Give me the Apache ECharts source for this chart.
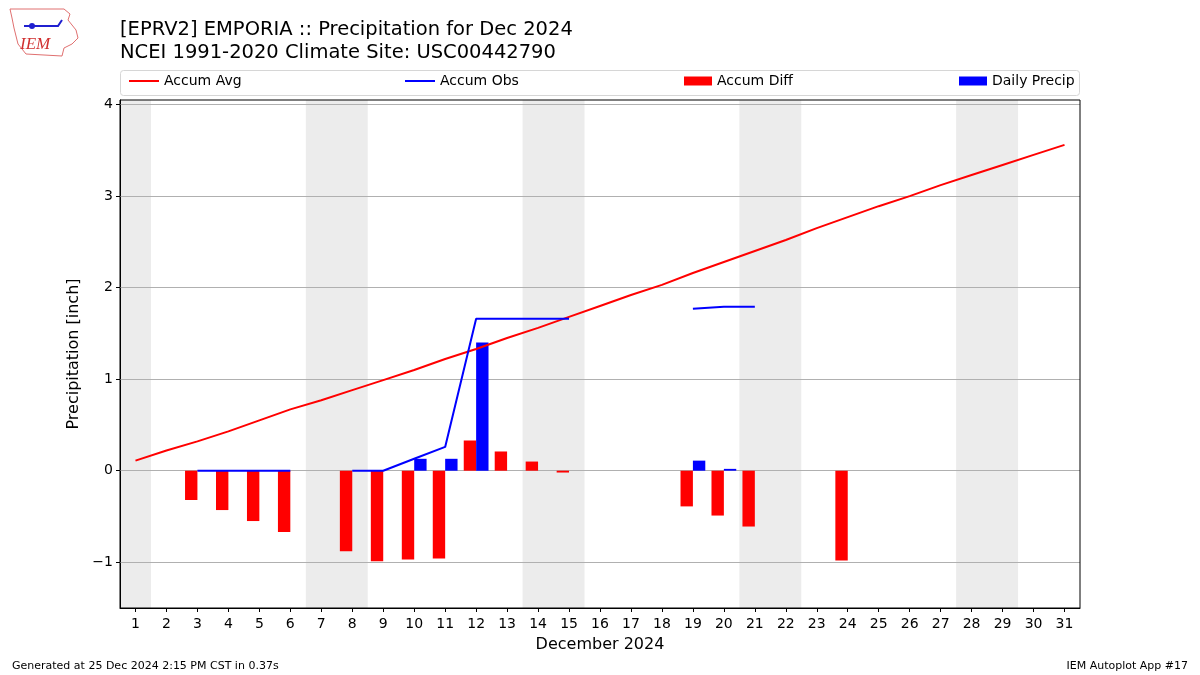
<!DOCTYPE html>
<html>
<head>
<meta charset="utf-8">
<script src="https://cdn.jsdelivr.net/npm/echarts@6/dist/echarts.min.js"></script>
<style>html,body{margin:0;padding:0;background:#fff}#c{width:1200px;height:675px}</style>
</head>
<body>
<div id="c"></div>
<script>
// ---- data ----
const days = Array.from({length: 31}, (_, i) => String(i + 1));
const accumAvg = [0.11,0.22,0.32,0.43,0.55,0.67,0.77,0.88,0.99,1.10,1.22,1.33,1.45,1.56,1.68,1.80,1.92,2.03,2.16,2.28,2.40,2.52,2.65,2.77,2.89,3.00,3.12,3.23,3.34,3.45,3.56];
const accumObs = [null,null,0,0,0,0,null,0,0,0.13,0.26,1.66,1.66,1.66,1.66,null,null,null,1.77,1.79,1.79,null,null,null,null,null,null,null,null,null,null];
const accumDiff = [null,null,-0.32,-0.43,-0.55,-0.67,null,-0.88,-0.99,-0.97,-0.96,0.33,0.21,0.10,-0.02,null,null,null,-0.39,-0.49,-0.61,null,null,-0.98,null,null,null,null,null,null,null];
const dailyPrecip = [null,null,0,0,0,0,null,0,0,0.13,0.13,1.40,0,0,0,null,null,null,0.11,0.02,0,null,null,null,null,null,null,null,null,null,null];
const weekends = [[0.5,1.5],[6.5,8.5],[13.5,15.5],[20.5,22.5],[27.5,29.5]];
const yTicks = [-1,0,1,2,3,4];

const FONT = 'DejaVu Sans';
const chart = echarts.init(document.getElementById('c'), null, {renderer: 'canvas'});

function legendAt(name, textX, iconW, iconH, top) {
  return {
    data: [name], left: textX - iconW - 5, top: top, icon: 'rect',
    itemWidth: iconW, itemHeight: iconH, padding: 0,
    textStyle: {fontFamily: FONT, fontSize: 14, color: '#000'},
    selectedMode: false
  };
}

chart.setOption({
  animation: false,
  backgroundColor: '#fff',
  textStyle: {fontFamily: FONT},
  title: [
    {text: '[EPRV2] EMPORIA :: Precipitation for Dec 2024\nNCEI 1991-2020 Climate Site: USC00442790', left: 120, top: 18, padding: 0,
     textStyle: {fontFamily: FONT, fontSize: 19.5, fontWeight: 'normal', color: '#000', lineHeight: 23}},
  ],
  legend: [
    legendAt('Accum Avg', 164, 30, 2, 74),
    legendAt('Accum Obs', 440, 30, 2, 74),
    legendAt('Accum Diff', 717, 28, 9, 74),
    legendAt('Daily Precip', 992, 28, 9, 74)
  ],
  graphic: [
    {type: 'rect', z: -1, shape: {x: 120.5, y: 70.5, width: 959, height: 25, r: 3}, style: {fill: '#fff', stroke: '#d6d6d6', lineWidth: 1}},
    {type: 'polygon', shape: {points: [[10,9],[64,9],[70,14],[68,20],[76,30],[78,38],[72,44],[64,48],[62,56],[26,54],[18,44],[14,28],[12,18]]},
     style: {fill: '#fff', stroke: '#e07070', lineWidth: 1}},
    {type: 'text', left: 20, top: 36, style: {text: 'IEM', fontFamily: 'Liberation Serif', fontStyle: 'italic', fontSize: 17, fill: '#d03030'}},
    {type: 'polyline', shape: {points: [[24,26],[58,26],[62,20]]}, style: {stroke: '#2020d0', lineWidth: 2, fill: 'none'}},
    {type: 'circle', shape: {cx: 32, cy: 26, r: 3}, style: {fill: '#2020d0'}},
    {type: 'text', left: 12, top: 661, style: {text: 'Generated at 25 Dec 2024 2:15 PM CST in 0.37s', fontFamily: FONT, fontSize: 11, fill: '#000'}},
    {type: 'text', right: 12, top: 661, style: {text: 'IEM Autoplot App #17', fontFamily: FONT, fontSize: 11, fill: '#000'}}
  ],
  grid: {left: 120, right: 120, top: 100, bottom: 67, show: true, borderColor: '#000', borderWidth: 1, backgroundColor: 'transparent', z: 10},
  xAxis: [
    {type: 'category', data: days, boundaryGap: true,
     name: 'December 2024', nameLocation: 'middle', nameGap: 29,
     nameTextStyle: {fontFamily: FONT, fontSize: 16, color: '#000'},
     axisLine: {show: true, onZero: false, lineStyle: {color: '#000'}},
     axisTick: {show: true, alignWithLabel: true, interval: 0, length: 4, lineStyle: {color: '#000'}},
     axisLabel: {fontFamily: FONT, fontSize: 14, color: '#000', interval: 0, margin: 9},
     splitLine: {show: false}},
    {type: 'value', min: 0.5, max: 31.5, show: false}
  ],
  yAxis: [
    {type: 'value', min: -1.5, max: 4.05,
     name: 'Precipitation [inch]', nameLocation: 'middle', nameGap: 36,
     nameTextStyle: {fontFamily: FONT, fontSize: 16, color: '#000'},
     axisLine: {show: true, lineStyle: {color: '#000'}},
     axisTick: {show: true, length: 4, lineStyle: {color: '#000'}, customValues: yTicks},
     axisLabel: {fontFamily: FONT, fontSize: 14, color: '#000', margin: 7, customValues: yTicks,
       formatter: v => (v < 0 ? '\u2212' + Math.abs(v) : String(v))},
     splitLine: {show: false}}
  ],
  series: [
    {name: 'shade', type: 'line', xAxisIndex: 1, yAxisIndex: 0, data: [], z: 0, silent: true,
     markArea: {silent: true, z: 0, itemStyle: {color: '#ececec'}, data: weekends.map(w => [{xAxis: w[0]}, {xAxis: w[1]}])},
     markLine: {silent: true, z: 1, symbol: 'none', label: {show: false}, lineStyle: {color: '#b0b0b0', width: 1, type: 'solid'},
       data: yTicks.map(t => ({yAxis: t}))}},
    {name: 'Accum Diff', type: 'bar', data: accumDiff, barWidth: '40%', barGap: '0%', itemStyle: {color: '#ff0000'}, z: 3},
    {name: 'Daily Precip', type: 'bar', data: dailyPrecip, barWidth: '40%', barGap: '0%', itemStyle: {color: '#0000ff'}, z: 3},
    {name: 'Accum Avg', type: 'line', data: accumAvg, showSymbol: false, symbol: 'none', lineStyle: {color: '#ff0000', width: 2}, itemStyle: {color: '#ff0000'}, z: 4},
    {name: 'Accum Obs', type: 'line', data: accumObs, showSymbol: false, symbol: 'none', connectNulls: false, lineStyle: {color: '#0000ff', width: 2}, itemStyle: {color: '#0000ff'}, z: 4}
  ]
});
</script>
</body>
</html>
